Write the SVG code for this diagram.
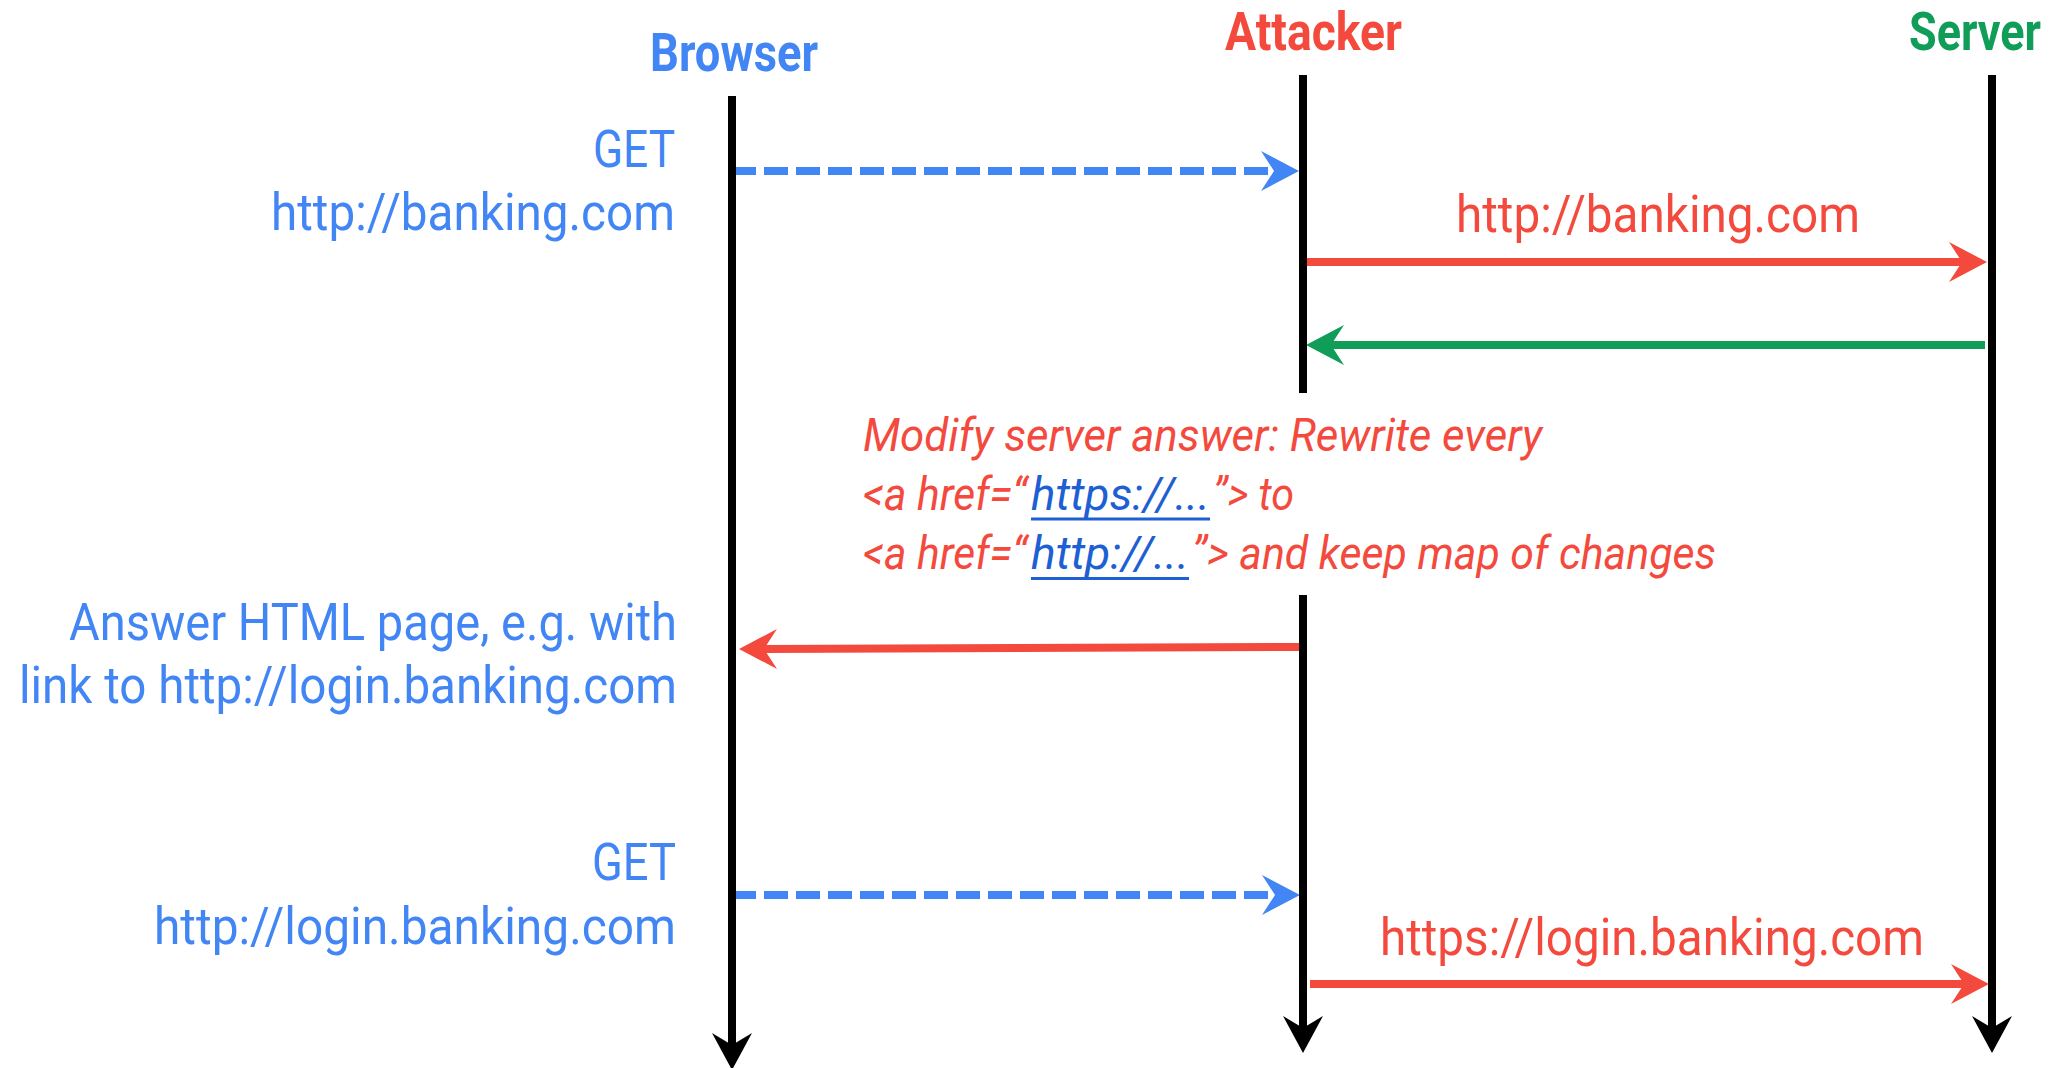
<svg xmlns="http://www.w3.org/2000/svg" width="2052" height="1068" viewBox="0 0 2052 1068">
  <defs>
    <style>
      text { font-family: Roboto, "Liberation Sans", sans-serif; }
      .title { font-size: 54px; font-weight: 700; }
      .lbl { font-size: 52px; }
      .note { font-size: 47px; font-style: italic; fill: #F4493D; }
      .link { fill: #1E5FD4; }
      .blue { fill: #4285F4; }
      .red { fill: #F4493D; }
      .green { fill: #0F9D58; }
      .life { stroke: #000; stroke-width: 8; fill: none; }
      .msg { stroke-width: 8; fill: none; }
      .dash { stroke-dasharray: 24 8; }
    </style>
    <marker id="ah-black" markerUnits="userSpaceOnUse" viewBox="-14 -21 40 42" markerWidth="40" markerHeight="42" refX="0" refY="0" orient="auto">
      <path d="M25,0 L-12,-20 L0,0 L-12,20 Z" fill="#000"/>
    </marker>
    <marker id="ah-blue" markerUnits="userSpaceOnUse" viewBox="-15 -21 41 42" markerWidth="41" markerHeight="42" refX="0" refY="0" orient="auto">
      <path d="M25,0 L-13,-20 L0,0 L-13,20 Z" fill="#4285F4"/>
    </marker>
    <marker id="ah-red" markerUnits="userSpaceOnUse" viewBox="-15 -21 41 42" markerWidth="41" markerHeight="42" refX="0" refY="0" orient="auto">
      <path d="M25,0 L-13,-20 L0,0 L-13,20 Z" fill="#F4493D"/>
    </marker>
    <marker id="ah-green" markerUnits="userSpaceOnUse" viewBox="-15 -21 41 42" markerWidth="41" markerHeight="42" refX="0" refY="0" orient="auto">
      <path d="M25,0 L-13,-20 L0,0 L-13,20 Z" fill="#0F9D58"/>
    </marker>
  </defs>

  <rect width="2052" height="1068" fill="#fff"/>

  <!-- messages between participants -->
  <g id="connectors">
    <path class="msg dash" d="M732,171 H1274" stroke="#4285F4" marker-end="url(#ah-blue)"/>
    <path class="msg" d="M1307,262 H1962" stroke="#F4493D" marker-end="url(#ah-red)"/>
    <path class="msg" d="M1985,345 H1331" stroke="#0F9D58" marker-end="url(#ah-green)"/>
    <path class="msg" d="M1299,647 L764,649" stroke="#F4493D" marker-end="url(#ah-red)"/>
    <path class="msg dash" d="M732,895 H1275" stroke="#4285F4" marker-end="url(#ah-blue)"/>
    <path class="msg" d="M1310,984 H1964" stroke="#F4493D" marker-end="url(#ah-red)"/>
  </g>

  <!-- participants with their lifelines -->
  <g id="browser">
    <text class="title blue" x="650" y="71" textLength="168" lengthAdjust="spacingAndGlyphs">Browser</text>
    <path class="life" d="M732,96 V1045" marker-end="url(#ah-black)"/>
  </g>
  <g id="attacker">
    <text class="title red" x="1225" y="50" textLength="177" lengthAdjust="spacingAndGlyphs">Attacker</text>
    <path class="life" d="M1303,75 V393"/>
    <path class="life" d="M1303,595 V1028" marker-end="url(#ah-black)"/>
  </g>
  <g id="server">
    <text class="title green" x="2041" y="50" text-anchor="end" textLength="132" lengthAdjust="spacingAndGlyphs">Server</text>
    <path class="life" d="M1992,75 V1028" marker-end="url(#ah-black)"/>
  </g>

  <!-- message labels -->
  <g id="label-get-1">
    <text class="lbl blue" x="593" y="167" textLength="82" lengthAdjust="spacingAndGlyphs">GET</text>
    <text class="lbl blue" x="271" y="230" textLength="404" lengthAdjust="spacingAndGlyphs">http://banking.com</text>
  </g>
  <g id="label-forward-1">
    <text class="lbl red" x="1456" y="232" textLength="404" lengthAdjust="spacingAndGlyphs">http://banking.com</text>
  </g>
  <g id="note-rewrite">
    <text class="note" x="863" y="451" textLength="679" lengthAdjust="spacingAndGlyphs">Modify server answer: Rewrite every</text>
    <text class="note" x="863" y="510" textLength="164" lengthAdjust="spacingAndGlyphs">&lt;a href=“</text>
    <text class="note link" x="1031" y="510" textLength="179" lengthAdjust="spacingAndGlyphs">https://...</text>
    <text class="note" x="1213" y="510" textLength="81" lengthAdjust="spacingAndGlyphs">”&gt; to</text>
    <rect x="1031" y="517.5" width="179" height="3" fill="#1E5FD4"/>
    <text class="note" x="863" y="569" textLength="164" lengthAdjust="spacingAndGlyphs">&lt;a href=“</text>
    <text class="note link" x="1031" y="569" textLength="158" lengthAdjust="spacingAndGlyphs">http://...</text>
    <text class="note" x="1192" y="569" textLength="524" lengthAdjust="spacingAndGlyphs">”&gt; and keep map of changes</text>
    <rect x="1031" y="577" width="158" height="3" fill="#1E5FD4"/>
  </g>
  <g id="label-answer">
    <text class="lbl blue" x="69" y="640" textLength="608" lengthAdjust="spacingAndGlyphs">Answer HTML page, e.g. with</text>
    <text class="lbl blue" x="19" y="703" textLength="658" lengthAdjust="spacingAndGlyphs">link to http://login.banking.com</text>
  </g>
  <g id="label-get-2">
    <text class="lbl blue" x="592" y="880" textLength="84" lengthAdjust="spacingAndGlyphs">GET</text>
    <text class="lbl blue" x="154" y="944" textLength="522" lengthAdjust="spacingAndGlyphs">http://login.banking.com</text>
  </g>
  <g id="label-forward-2">
    <text class="lbl red" x="1380" y="955" textLength="544" lengthAdjust="spacingAndGlyphs">https://login.banking.com</text>
  </g>
</svg>
